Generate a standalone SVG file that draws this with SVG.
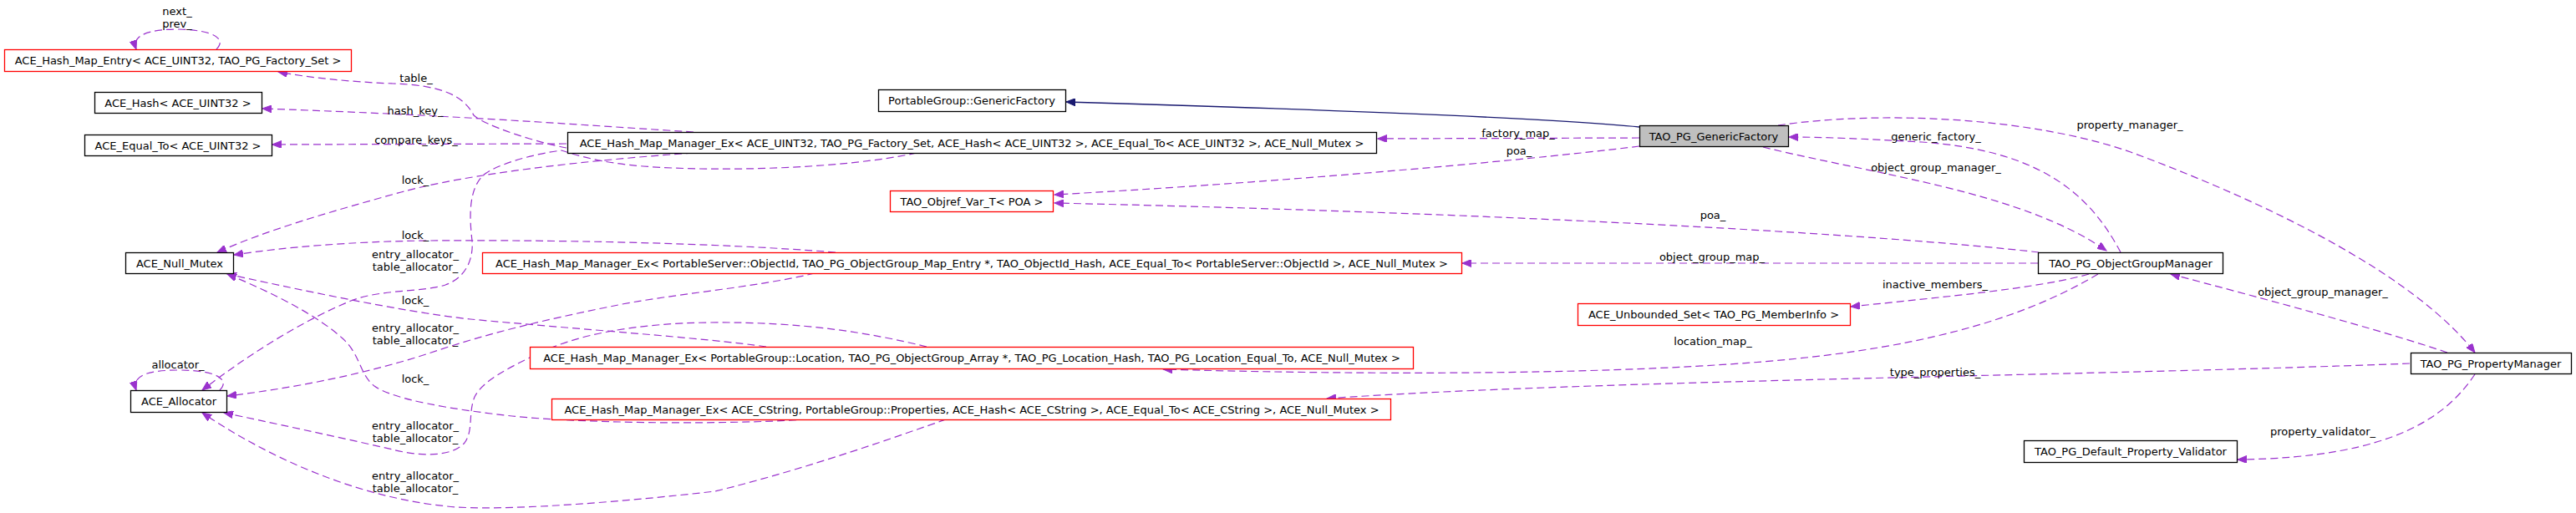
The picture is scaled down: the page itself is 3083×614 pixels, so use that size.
<svg xmlns="http://www.w3.org/2000/svg" width="3083" height="614" viewBox="0 0 3083 614">
<style>
text{font-family:"DejaVu Sans","Liberation Sans",sans-serif;font-size:13px;fill:#000}
.nt{text-anchor:middle}
.lb{text-anchor:middle}
rect{fill:#fff;stroke:#000;stroke-width:1.3}
rect.red{stroke:#ff0000}
rect.cur{fill:#bfbfbf}
.e{fill:none;stroke:#9a32cd;stroke-width:1.2;stroke-dasharray:9,5}
.inh{fill:none;stroke:#191970;stroke-width:1.3}
</style>
<defs>
<marker id="a" markerUnits="userSpaceOnUse" markerWidth="12" markerHeight="9" refX="11" refY="4.5" orient="auto" viewBox="0 0 12 9"><path d="M0,0 L11,4.5 L0,9 z" fill="#9a32cd" stroke="#9a32cd"/></marker>
<marker id="g" markerUnits="userSpaceOnUse" markerWidth="12" markerHeight="9" refX="11" refY="4.5" orient="auto" viewBox="0 0 12 9"><path d="M0,0 L11,4.5 L0,9 z" fill="#191970" stroke="#191970"/></marker>
</defs>
<rect x="0" y="0" width="3083" height="614" style="fill:#fff;stroke:none"/>

<g id="connectors">
<path class="inh" marker-end="url(#g)" d="M1962,152 C1850,141 1550,130 1276,122"/>
<path class="e" marker-end="url(#a)" d="M1962,165 L1649,166"/>
<path class="e" marker-end="url(#a)" d="M1962,175 C1800,195 1500,220 1262,233"/>
<path class="e" marker-end="url(#a)" d="M2440,302 C2250,280 1800,255 1262,243"/>
<path class="e" marker-end="url(#a)" d="M2538,302 C2500,230 2440,180 2300,170 C2230,166 2180,164 2141,164"/>
<path class="e" marker-end="url(#a)" d="M2110,176 C2250,210 2420,230 2521,300"/>
<path class="e" marker-end="url(#a)" d="M2128,150 C2250,132 2430,140 2550,182 C2720,245 2890,330 2962,422"/>
<path class="e" marker-end="url(#a)" d="M2929,422 C2850,395 2700,355 2598,328"/>
<path class="e" marker-end="url(#a)" d="M2962,448 C2930,495 2870,548 2678,550"/>
<path class="e" marker-end="url(#a)" d="M2884,435 C2500,450 1900,455 1588,477"/>
<path class="e" marker-end="url(#a)" d="M2511,328 C2440,370 2330,415 2109,433 C1900,450 1600,448 1392,442"/>
<path class="e" marker-end="url(#a)" d="M2500,328 C2440,345 2330,355 2215,367"/>
<path class="e" marker-end="url(#a)" d="M2439,315 L1750,315"/>
<path class="e" marker-end="url(#a)" d="M678,172 L326,173"/>
<path class="e" marker-end="url(#a)" d="M830,158 C700,150 550,138 314,130"/>
<path class="e" marker-end="url(#a)" d="M678,177 C640,170 580,150 567,138 C555,115 530,102 470,100 C420,98 370,93 333,86"/>
<path class="e" marker-end="url(#a)" d="M830,183 C700,192 560,208 480,230 C400,252 320,275 260,302"/>
<path class="e" marker-end="url(#a)" d="M1000,302 C850,290 650,287 513,288 C420,289 340,296 280,305"/>
<path class="e" marker-end="url(#a)" d="M917,415 C850,405 680,393 563,382 C480,373 350,345 272,328"/>
<path class="e" marker-end="url(#a)" d="M967,502 C850,509 690,506 613,498 C540,490 470,478 448,462 C430,448 432,425 410,405 C380,378 330,352 272,328"/>
<path class="e" marker-end="url(#a)" d="M1097,183 C1010,202 860,206 770,199 C720,195 690,186 672,180 C640,184 595,196 578,210 C560,228 562,262 565,288 C567,312 556,333 533,341 C505,350 455,346 420,360 C355,387 290,430 242,467"/>
<path class="e" marker-end="url(#a)" d="M975,327 C900,345 800,352 730,367 C650,383 580,400 513,423 C430,450 340,466 272,474"/>
<path class="e" marker-end="url(#a)" d="M1109,415 C1040,398 960,385 850,386 C760,387 690,400 640,425 C610,440 578,455 568,475 C560,495 567,515 556,530 C540,548 500,546 470,538 C400,522 320,505 268,494"/>
<path class="e" marker-end="url(#a)" d="M1132,502 C1080,520 970,560 856,588 C750,600 620,611 547,607 C450,600 340,560 242,494"/>
<path class="e" marker-end="url(#a)" d="M259,59 C272,46 255,36 214,35 C178,35 157,42 163,59"/>
<path class="e" marker-end="url(#a)" d="M263,467 C276,454 259,443 214,443 C178,443 157,449 163,467"/>

<text class="lb" x="212" y="18">next_</text>
<text class="lb" x="212" y="33">prev_</text>
<text class="lb" x="213" y="441">allocator_</text>
<text class="lb" x="498" y="98">table_</text>
<text class="lb" x="497" y="137">hash_key_</text>
<text class="lb" x="498" y="172">compare_keys_</text>
<text class="lb" x="497" y="220">lock_</text>
<text class="lb" x="497" y="286">lock_</text>
<text class="lb" x="497" y="309">entry_allocator_</text>
<text class="lb" x="497" y="324">table_allocator_</text>
<text class="lb" x="497" y="364">lock_</text>
<text class="lb" x="497" y="397">entry_allocator_</text>
<text class="lb" x="497" y="412">table_allocator_</text>
<text class="lb" x="497" y="458">lock_</text>
<text class="lb" x="497" y="514">entry_allocator_</text>
<text class="lb" x="497" y="529">table_allocator_</text>
<text class="lb" x="497" y="574">entry_allocator_</text>
<text class="lb" x="497" y="589">table_allocator_</text>
<text class="lb" x="1817" y="164">factory_map_</text>
<text class="lb" x="1818" y="185">poa_</text>
<text class="lb" x="2317" y="168">generic_factory_</text>
<text class="lb" x="2317" y="205">object_group_manager_</text>
<text class="lb" x="2050" y="262">poa_</text>
<text class="lb" x="2049" y="312">object_group_map_</text>
<text class="lb" x="2316" y="345">inactive_members_</text>
<text class="lb" x="2050" y="413">location_map_</text>
<text class="lb" x="2316" y="450">type_properties_</text>
<text class="lb" x="2549" y="154">property_manager_</text>
<text class="lb" x="2780" y="354">object_group_manager_</text>
<text class="lb" x="2780" y="521">property_validator_</text>
</g>

<g id="n_hash_map_entry"><rect class="red" x="5.5" y="59.5" width="415" height="26"/><text class="nt" x="213" y="77">ACE_Hash_Map_Entry&lt; ACE_UINT32, TAO_PG_Factory_Set &gt;</text></g>
<g id="n_ace_hash"><rect x="113.5" y="110.5" width="200" height="25"/><text class="nt" x="213" y="128">ACE_Hash&lt; ACE_UINT32 &gt;</text></g>
<g id="n_ace_equal_to"><rect x="101.5" y="161.5" width="224" height="25"/><text class="nt" x="213" y="179">ACE_Equal_To&lt; ACE_UINT32 &gt;</text></g>
<g id="n_null_mutex"><rect x="150.5" y="302.5" width="129" height="25"/><text class="nt" x="215" y="320">ACE_Null_Mutex</text></g>
<g id="n_allocator"><rect x="156.5" y="467.5" width="115" height="26"/><text class="nt" x="214" y="485">ACE_Allocator</text></g>
<g id="n_pg_genericfactory"><rect x="1051.5" y="107.5" width="224" height="26"/><text class="nt" x="1163" y="125">PortableGroup::GenericFactory</text></g>
<g id="n_hmm_uint32"><rect x="679.5" y="158.5" width="968" height="25"/><text class="nt" x="1163" y="176">ACE_Hash_Map_Manager_Ex&lt; ACE_UINT32, TAO_PG_Factory_Set, ACE_Hash&lt; ACE_UINT32 &gt;, ACE_Equal_To&lt; ACE_UINT32 &gt;, ACE_Null_Mutex &gt;</text></g>
<g id="n_objref_var"><rect class="red" x="1065.5" y="228.5" width="195" height="25"/><text class="nt" x="1163" y="246">TAO_Objref_Var_T&lt; POA &gt;</text></g>
<g id="n_hmm_objectid"><rect class="red" x="577.5" y="302.5" width="1172" height="25"/><text class="nt" x="1163" y="320">ACE_Hash_Map_Manager_Ex&lt; PortableServer::ObjectId, TAO_PG_ObjectGroup_Map_Entry *, TAO_ObjectId_Hash, ACE_Equal_To&lt; PortableServer::ObjectId &gt;, ACE_Null_Mutex &gt;</text></g>
<g id="n_hmm_location"><rect class="red" x="634.5" y="415.5" width="1057" height="26"/><text class="nt" x="1163" y="433">ACE_Hash_Map_Manager_Ex&lt; PortableGroup::Location, TAO_PG_ObjectGroup_Array *, TAO_PG_Location_Hash, TAO_PG_Location_Equal_To, ACE_Null_Mutex &gt;</text></g>
<g id="n_hmm_cstring"><rect class="red" x="660.5" y="477.5" width="1004" height="25"/><text class="nt" x="1163" y="495">ACE_Hash_Map_Manager_Ex&lt; ACE_CString, PortableGroup::Properties, ACE_Hash&lt; ACE_CString &gt;, ACE_Equal_To&lt; ACE_CString &gt;, ACE_Null_Mutex &gt;</text></g>
<g id="n_tao_pg_genericfactory"><rect class="cur" x="1962.5" y="150.5" width="178" height="25"/><text class="nt" x="2051" y="168">TAO_PG_GenericFactory</text></g>
<g id="n_objectgroupmanager"><rect x="2439.5" y="302.5" width="221" height="25"/><text class="nt" x="2550" y="320">TAO_PG_ObjectGroupManager</text></g>
<g id="n_unbounded_set"><rect class="red" x="1888.5" y="363.5" width="326" height="26"/><text class="nt" x="2051" y="381">ACE_Unbounded_Set&lt; TAO_PG_MemberInfo &gt;</text></g>
<g id="n_propertymanager"><rect x="2885.5" y="422.5" width="192" height="25"/><text class="nt" x="2981" y="440">TAO_PG_PropertyManager</text></g>
<g id="n_property_validator"><rect x="2422.5" y="527.5" width="255" height="26"/><text class="nt" x="2550" y="545">TAO_PG_Default_Property_Validator</text></g>
</svg>
